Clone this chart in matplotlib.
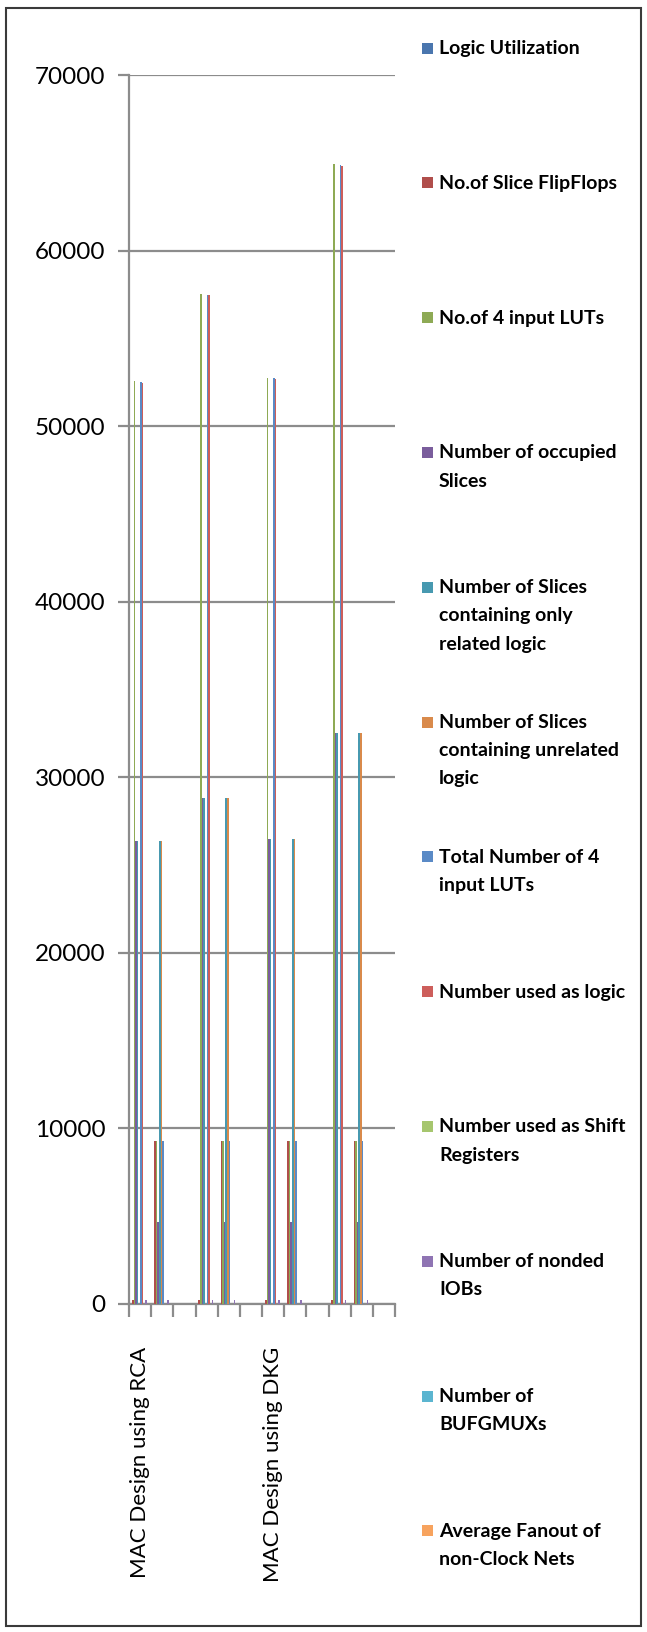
import matplotlib
matplotlib.use("Agg")
import matplotlib.pyplot as plt
from matplotlib.patches import Rectangle
import numpy as np

# ---------------- data ----------------
categories = ["MAC Design using RCA", "", "", "", "", "",
              "MAC Design using DKG", "", "", "", "", ""]

series_names = [
    "Logic Utilization",
    "No.of Slice FlipFlops",
    "No.of 4 input LUTs",
    "Number of occupied\nSlices",
    "Number of Slices\ncontaining only\nrelated logic",
    "Number of Slices\ncontaining unrelated\nlogic",
    "Total Number of 4\ninput LUTs",
    "Number used as logic",
    "Number used as Shift\nRegisters",
    "Number of nonded\nIOBs",
    "Number of\nBUFGMUXs",
    "Average Fanout of\nnon-Clock Nets",
]

logic_utilization = [0, 0, 0, 0, 0, 0, 0, 0, 0, 0, 0, 0]
slice_flipflops = [250, 9312, 0.03, 250, 9312, 0.03, 250, 9312, 0.03, 250, 9312, 0.03]
input_luts = [52560, 9312, 5.64, 57500, 9312, 6.17, 52750, 9312, 5.66, 64920, 9312, 6.97]
occupied_slices = [26370, 4656, 5.66, 28830, 4656, 6.19, 26460, 4656, 5.68, 32530, 4656, 6.99]
related_logic = [26370, 26370, 1.0, 28830, 28830, 1.0, 26460, 26460, 1.0, 32530, 32530, 1.0]
unrelated_logic = [0, 26370, 0, 0, 28830, 0, 0, 26460, 0, 0, 32530, 0]
total_luts = [52500, 9312, 5.64, 57480, 9312, 6.17, 52720, 9312, 5.66, 64860, 9312, 6.97]
used_as_logic = [52480, 0, 0, 57460, 0, 0, 52700, 0, 0, 64840, 0, 0]
shift_registers = [20, 0, 0, 20, 0, 0, 20, 0, 0, 20, 0, 0]
bonded_iobs = [200, 232, 0.86, 200, 232, 0.86, 200, 232, 0.86, 200, 232, 0.86]
bufgmuxs = [1, 24, 0.04, 1, 24, 0.04, 1, 24, 0.04, 1, 24, 0.04]
avg_fanout = [3.1, 0, 0, 3.1, 0, 0, 3.1, 0, 0, 3.1, 0, 0]

series_values = [logic_utilization, slice_flipflops, input_luts, occupied_slices,
                 related_logic, unrelated_logic, total_luts, used_as_logic,
                 shift_registers, bonded_iobs, bufgmuxs, avg_fanout]

colors = ["#4A76AE", "#B04E4B", "#8EAA55", "#7A5D9C", "#4799B0", "#D98A4B",
          "#5A8AC6", "#CD5E5B", "#A6C66E", "#8F74B3", "#5BB5D0", "#F7A35E"]

y_ticks = [0, 10000, 20000, 30000, 40000, 50000, 60000, 70000]

# ---------------- figure ----------------
W, H = 647, 1632
DPI = 100
fig = plt.figure(figsize=(W / DPI, H / DPI), dpi=DPI)
fig.patch.set_facecolor("white")

def fx(px):
    return px / W

def fy(py):
    return 1 - py / H

ax_left, ax_right, ax_top, ax_bottom = 129, 395, 75, 1304
ax = fig.add_axes([fx(ax_left), fy(ax_bottom), fx(ax_right - ax_left),
                   (ax_bottom - ax_top) / H])

n_cat = len(categories)
n_ser = len(series_values)
bw = 1 / 13.5
x = np.arange(n_cat) + 0.5
for k, (vals, col) in enumerate(zip(series_values, colors)):
    ax.bar(x + (k - (n_ser - 1) / 2) * bw, vals, width=bw, color=col,
           linewidth=0, zorder=3)

grid_col = "#8C8C8C"
ax.set_xlim(0, n_cat)
ax.set_ylim(0, 70000)
ax.tick_params(axis="y", length=8, width=1.6, color=grid_col, direction="out",
               pad=9)
ax.set_yticks(y_ticks)
ax.set_yticklabels([str(v) for v in y_ticks], fontfamily="Lato", fontsize=17.5)
ax.yaxis.grid(True, color=grid_col, linewidth=1.6, zorder=1)
ax.set_axisbelow(True)

# category labels on major ticks (centres), tick marks on minor ticks (boundaries)
ax.set_xticks(x)
ax.set_xticklabels(categories, rotation=90, fontfamily="Lato",
                   fontsize=16, va="top", ha="center")
ax.tick_params(axis="x", which="major", length=0, pad=31)
ax.set_xticks(np.arange(n_cat + 1), minor=True)
ax.tick_params(axis="x", which="minor", length=9, width=1.6, color=grid_col,
               direction="out")

for s in ["top", "right"]:
    ax.spines[s].set_visible(False)
for s in ["left", "bottom"]:
    ax.spines[s].set_color(grid_col)
    ax.spines[s].set_linewidth(1.6)

# ---------------- legend ----------------
sq = 11
for i, (name, col) in enumerate(zip(series_names, colors)):
    yc = 48 + 134.8 * i
    fig.add_artist(Rectangle((fx(422), fy(yc + sq / 2)), sq / W, sq / H,
                             transform=fig.transFigure, facecolor=col,
                             edgecolor="none"))
    fig.text(fx(439), fy(yc - 8), name, fontfamily="Lato", fontweight="bold",
             fontsize=14, va="top", ha="left", linespacing=1.8,
             color="black")

# outer chart border
fig.add_artist(Rectangle((fx(6), fy(1626)), (641 - 6) / W, (1626 - 8) / H,
                         transform=fig.transFigure, facecolor="none",
                         edgecolor="#3A3A3A", linewidth=1.5))

fig.savefig("out.png", dpi=DPI)
